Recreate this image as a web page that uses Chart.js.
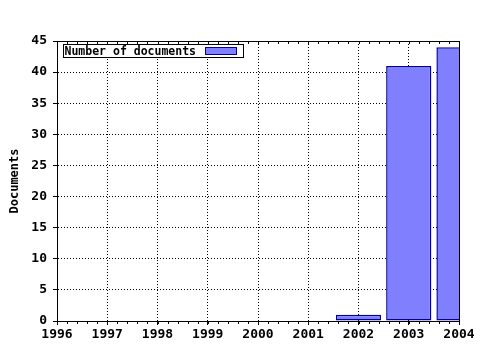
<!DOCTYPE html>
<html>
<head>
<meta charset="utf-8">
<script src="https://cdn.jsdelivr.net/npm/chart.js@4/dist/chart.umd.min.js"></script>
<style>
  html, body { margin: 0; padding: 0; background: #fff; }
  #wrap { width: 480px; height: 350px; }
</style>
</head>
<body>
<div id="wrap"><canvas id="chart"></canvas></div>
<script>
// data
const years = [2002, 2003, 2004];
const docCounts = [1, 41, 44];
const seriesLabel = 'Number of documents';
const yTitle = 'Documents';

const FONT = '"DejaVu Sans Mono", "Liberation Mono", monospace';

// legend box + minor ticks + frame, drawn on top of the plot
const framePlugin = {
  id: 'frame',
  afterDraw(chart) {
    const ctx = chart.ctx;
    const a = chart.chartArea;
    const x = chart.scales.x;
    ctx.save();
    ctx.strokeStyle = '#000';
    ctx.lineWidth = 1;

    // minor ticks every 0.2 year, top and bottom
    ctx.beginPath();
    for (let v = x.min; v <= x.max + 1e-6; v += 0.2) {
      const px = Math.round(x.getPixelForValue(v)) + 0.5;
      ctx.moveTo(px, a.bottom); ctx.lineTo(px, a.bottom + 3);
      ctx.moveTo(px, a.top); ctx.lineTo(px, a.top + 3);
    }
    ctx.stroke();

    // frame
    ctx.strokeRect(Math.round(a.left) + 0.5, Math.round(a.top) + 0.5,
      Math.round(a.right - a.left), Math.round(a.bottom - a.top));

    // legend
    const ds = chart.data.datasets[0];
    ctx.font = 'bold 11.5px ' + FONT;
    const lx = Math.round(a.left) + 6.5, ly = Math.round(a.top) + 3.5;
    const lw = 180, lh = 13;
    ctx.fillStyle = '#fff';
    ctx.fillRect(lx, ly, lw, lh);
    ctx.strokeRect(lx, ly, lw, lh);
    ctx.fillStyle = '#000';
    ctx.textBaseline = 'middle';
    ctx.fillText(ds.label, lx + 1, ly + lh / 2 + 1);
    const sx = lx + 142;
    ctx.fillStyle = ds.backgroundColor;
    ctx.fillRect(sx, ly + 3, 31, 7);
    ctx.strokeStyle = ds.borderColor;
    ctx.strokeRect(sx, ly + 3, 31, 7);
    ctx.restore();
  }
};

new Chart(document.getElementById('chart'), {
  type: 'bar',
  data: {
    labels: years,
    datasets: [{
      label: seriesLabel,
      data: years.map((y, i) => ({ x: y, y: docCounts[i] })),
      backgroundColor: '#8080ff',
      borderColor: '#00009c',
      borderWidth: 1.5,
      borderSkipped: false,
      barPercentage: 0.9,
      categoryPercentage: 1
    }]
  },
  options: {
    responsive: true,
    maintainAspectRatio: false,
    animation: false,
    layout: { padding: { top: 41, right: 21, left: 0, bottom: 0 } },
    plugins: {
      legend: { display: false },
      tooltip: { enabled: false }
    },
    scales: {
      x: {
        type: 'linear',
        min: 1996,
        max: 2004,
        offset: false,
        afterFit(s) { s.height = 29; },
        ticks: {
          stepSize: 1,
          color: '#000',
          font: { family: FONT, size: 13, weight: 'bold' },
          padding: 2,
          callback: v => String(v)
        },
        grid: {
          offset: false,
          color: '#000',
          lineWidth: 1,
          tickLength: 4,
          tickBorderDash: []
        },
        border: { display: true, color: '#000', dash: [1, 2] }
      },
      y: {
        min: 0,
        max: 45,
        afterFit(s) { s.width = 57; },
        ticks: {
          stepSize: 5,
          color: '#000',
          font: { family: FONT, size: 13, weight: 'bold' },
          padding: 6
        },
        title: {
          display: true,
          text: yTitle,
          color: '#000',
          font: { family: FONT, size: 12, weight: 'bold' },
          padding: { top: 8, bottom: 0 }
        },
        grid: {
          color: '#000',
          lineWidth: 1,
          tickLength: 4,
          tickBorderDash: []
        },
        border: { display: true, color: '#000', dash: [1, 2] }
      }
    }
  },
  plugins: [framePlugin]
});
</script>
</body>
</html>
